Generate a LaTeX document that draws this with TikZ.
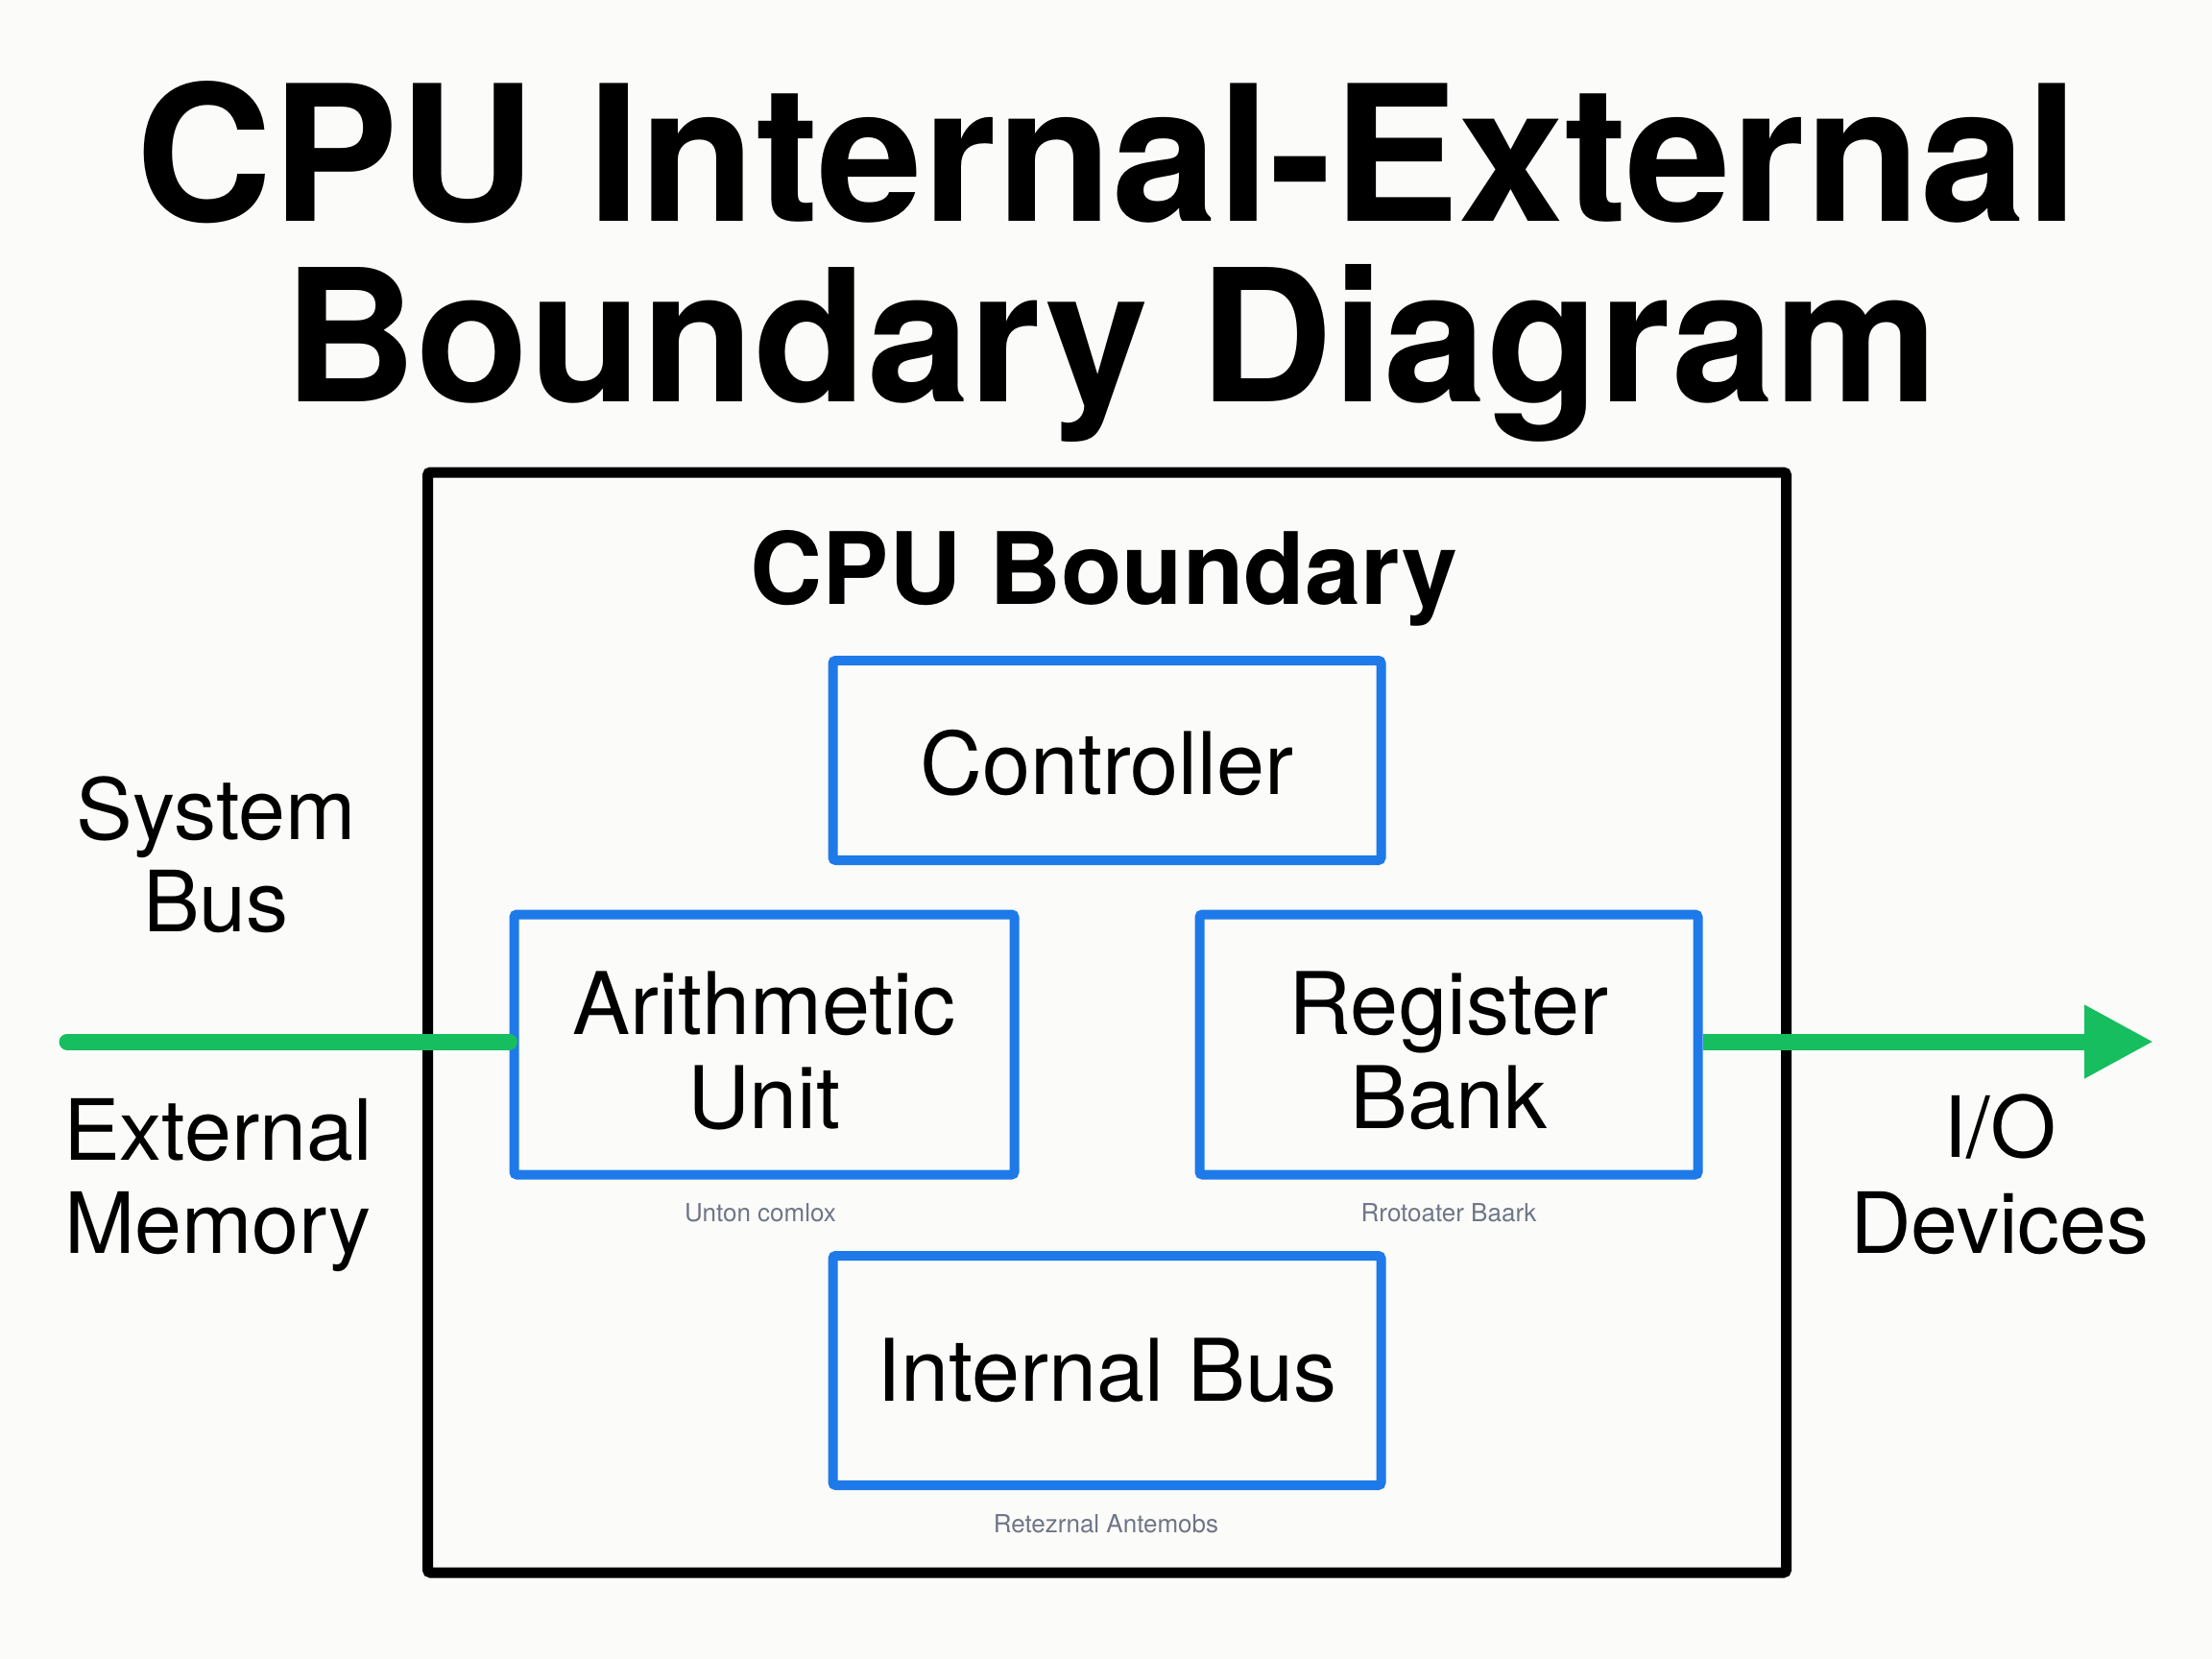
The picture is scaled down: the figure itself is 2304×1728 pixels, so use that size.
\documentclass[tikz,border=0pt]{standalone}
\usepackage{fontspec}
\setmainfont{TeX Gyre Heros}
\usetikzlibrary{arrows.meta}
\definecolor{boxblue}{RGB}{30,122,232}
\definecolor{busgreen}{RGB}{22,190,95}
\definecolor{bgcol}{RGB}{251,251,249}
\definecolor{faint}{RGB}{110,118,135}
\begin{document}
\begin{tikzpicture}[x=0.5pt,y=-0.5pt,
  unitbox/.style={draw=boxblue, line width=5pt, inner sep=0pt, rounded corners=1.5pt},
  boundbox/.style={draw=black, line width=5.5pt, inner sep=0pt, rounded corners=1.5pt},
  titletext/.style={inner sep=0pt, anchor=base, font=\fontsize{96}{96}\selectfont\bfseries},
  headtext/.style={inner sep=0pt, anchor=base, font=\fontsize{52}{52}\selectfont\bfseries},
  boxtext/.style={inner sep=0pt, anchor=base, font=\fontsize{45}{45}\selectfont},
  sidetext/.style={inner sep=0pt, anchor=base, font=\fontsize{44}{44}\selectfont},
  smalltext/.style={inner sep=0pt, text=faint, font=\fontsize{13}{13}\selectfont},
  busline/.style={draw=busgreen, line width=8.5pt}]
\useasboundingbox (0,0) rectangle (2304,1728);
\fill[bgcol] (0,0) rectangle (2304,1728);

% title
\node[titletext, font=\fontsize{98.5}{98.5}\selectfont\bfseries] (title1) at (1153,231) {CPU Internal-External};
\node[titletext] (title2) at (1157,419) {Boundary Diagram};

% CPU boundary
\node[boundbox, minimum width=707.5pt, minimum height=573pt] (cpu) at (1153,1065) {};
\node[headtext] (cpuhead) at (1150,629) {CPU Boundary};

% units
\node[unitbox, minimum width=285.5pt, minimum height=104pt] (ctrl) at (1153,792) {};
\node[boxtext] (ctrltext) at (1153,827) {Controller};

\node[unitbox, minimum width=260.5pt, minimum height=135.5pt] (arith) at (796,1088) {};
\node[boxtext] (arith1) at (796,1077) {Arithmetic};
\node[boxtext] (arith2) at (796,1175) {Unit};

\node[unitbox, minimum width=259.5pt, minimum height=135.5pt] (reg) at (1509,1088) {};
\node[boxtext] (reg1) at (1509,1077) {Register};
\node[boxtext] (reg2) at (1509,1175) {Bank};

\node[unitbox, minimum width=285.5pt, minimum height=119.5pt] (ibus) at (1153,1427.5) {};
\node[boxtext] (ibustext) at (1153,1459) {Internal Bus};

% faint captions
\node[smalltext] (cap1) at (792,1263) {Unton comlox};
\node[smalltext] (cap2) at (1509,1263) {Rrotoater Baark};
\node[smalltext] (cap3) at (1152,1587) {Retezrnal Antemobs};

% side labels
\node[sidetext] (sys1) at (225,874) {System};
\node[sidetext] (sys2) at (225,970) {Bus};
\node[sidetext] (ext1) at (227,1208) {External};
\node[sidetext] (ext2) at (227,1305) {Memory};
\node[sidetext] (io1) at (2083,1205) {I/O};
\node[sidetext] (io2) at (2083,1305) {Devices};

% buses
\coordinate (sbstart) at (70,1085);
\coordinate (iotip) at (2243,1085);
\draw[busline, line cap=round] (sbstart) -- (arith.west |- sbstart);
\draw[busline, -{Triangle[length=36pt,width=36pt]}] (reg.east |- iotip) -- (iotip);
\end{tikzpicture}
\end{document}
